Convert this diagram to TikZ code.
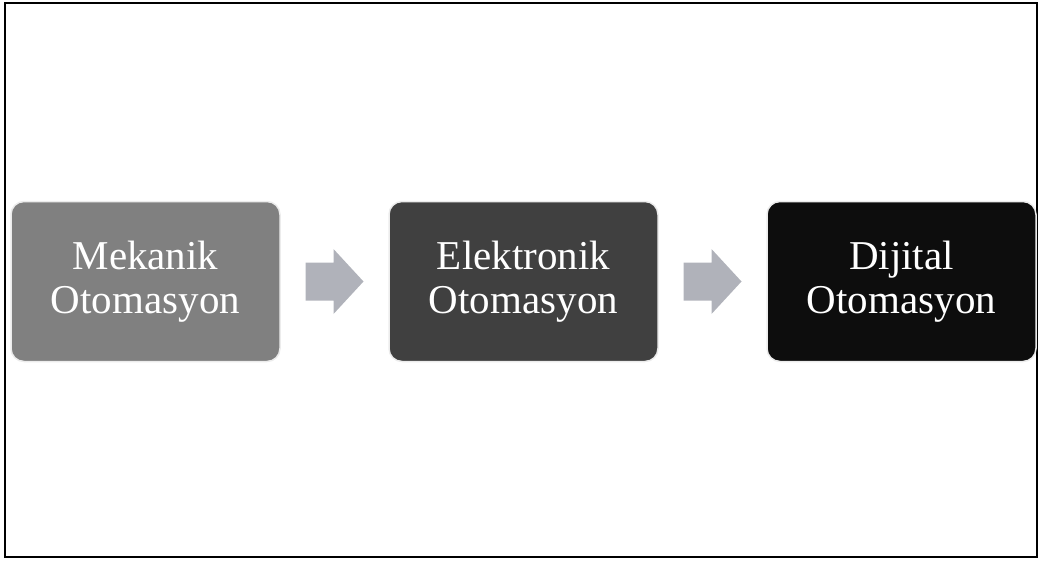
\documentclass[tikz,border=0pt]{standalone}
\usepackage{fontspec}
\usetikzlibrary{positioning,calc}
\newfontfamily\boxfont{Liberation Serif}
\definecolor{arrowgray}{RGB}{176,178,186}

\begin{document}
\begin{tikzpicture}[
  x=1pt, y=-1pt,
  node distance=107.5pt,
  stage/.style={rounded corners=13pt, draw=gray!15, line width=1.5pt,
    minimum width=269pt, minimum height=160pt, text=white, align=center,
    font=\boxfont\fontsize{41}{43.5}\selectfont},
  chevron/.style={fill=arrowgray}
  ]
  \useasboundingbox (0,0) rectangle (1042,560);
  \draw[line width=1.5pt] (5,3) rectangle (1037,557);

  \node[stage, fill=black!50] (mek) at (145.5,281.5) {Mekanik\\Otomasyon};
  \node[stage, fill=black!75, right=of mek] (elk) {Elektronik\\Otomasyon};
  \node[stage, fill=black!95, right=of elk] (dij) {Dijital\\Otomasyon};

  % block arrows between the stages
  \coordinate (a1) at ($(mek.east)!.5!(elk.west)$);
  \coordinate (a2) at ($(elk.east)!.5!(dij.west)$);
  \foreach \c in {a1,a2}
    \fill[chevron] ([shift={(-29,-19)}]\c) -- ++(28,0) -- ++(0,-13.5) -- ++(30,32.5)
      -- ++(-30,32.5) -- ++(0,-13.5) -- ++(-28,0) -- cycle;
\end{tikzpicture}
\end{document}
